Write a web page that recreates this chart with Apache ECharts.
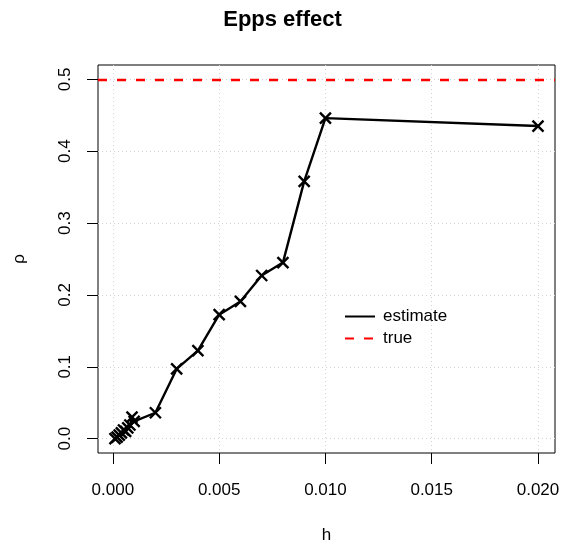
<!DOCTYPE html>
<html>
<head>
<meta charset="utf-8">
<script src="https://cdn.jsdelivr.net/npm/echarts@6/dist/echarts.min.js"></script>
<style>
  html, body { margin: 0; padding: 0; background: #fff; }
  #main { width: 565px; height: 543px; }
</style>
</head>
<body>
<div id="main"></div>
<script>
// lag h and the estimated correlation at each lag
var hValues = [0.0001, 0.0002, 0.0003, 0.0004, 0.0005, 0.0006, 0.0007, 0.0008, 0.0009, 0.001,
               0.002, 0.003, 0.004, 0.005, 0.006, 0.007, 0.008, 0.009, 0.010, 0.020];
var rhoValues = [0.000, 0.002, 0.005, 0.008, 0.012, 0.010, 0.015, 0.019, 0.030, 0.024,
                 0.036, 0.097, 0.1225, 0.1725, 0.191, 0.227, 0.245, 0.358, 0.446, 0.435];
var trueRho = 0.5;
var xTicks = [0, 0.005, 0.010, 0.015, 0.020];
var yTicks = [0, 0.1, 0.2, 0.3, 0.4, 0.5];

var points = [];
for (var i = 0; i < hValues.length; i++) {
    points.push([hValues[i], rhoValues[i]]);
}

var font = 'Liberation Sans, Arial, Helvetica, sans-serif';
var chart = echarts.init(document.getElementById('main'));

var option = {
    animation: false,
    backgroundColor: '#fff',
    title: {
        text: 'Epps effect',
        left: 'center',
        top: 4,
        textStyle: { fontFamily: font, fontSize: 22, fontWeight: 'bold', color: '#000' }
    },
    grid: {
        left: 98, right: 10, top: 65, bottom: 90,
        outerBoundsMode: 'none',
        show: true, borderColor: '#000', borderWidth: 1, backgroundColor: 'transparent'
    },
    legend: {
        orient: 'vertical',
        left: 339,
        top: 303,
        itemWidth: 30,
        itemHeight: 14,
        itemGap: 5,
        itemStyle: { opacity: 0 },
        textStyle: { fontFamily: font, fontSize: 17, color: '#000', padding: [0, 0, 0, 3] },
        data: ['estimate', 'true']
    },
    xAxis: {
        type: 'value',
        min: -0.0007,
        max: 0.0208,
        name: 'h',
        nameLocation: 'middle',
        nameGap: 74,
        nameTextStyle: { fontFamily: font, fontSize: 17, color: '#000' },
        axisLine: { show: false, onZero: false },
        axisTick: { show: true, length: 11, lineStyle: { color: '#000' }, customValues: xTicks },
        axisLabel: {
            fontFamily: font, fontSize: 17, color: '#000', margin: 29,
            customValues: xTicks,
            formatter: function (v) { return v.toFixed(3); }
        },
        splitLine: { show: true, lineStyle: { color: '#d3d3d3', type: [1, 3], width: 1 } }
    },
    yAxis: {
        type: 'value',
        min: -0.02,
        max: 0.52,
        name: 'ρ',
        nameLocation: 'middle',
        nameGap: 70,
        nameTextStyle: { fontFamily: font, fontSize: 17, color: '#000' },
        axisLine: { show: false, onZero: false },
        axisTick: { show: true, length: 11, lineStyle: { color: '#000' }, customValues: yTicks },
        axisLabel: {
            fontFamily: font, fontSize: 17, color: '#000', margin: 24, rotate: 90,
            customValues: yTicks,
            formatter: function (v) { return v.toFixed(1); }
        },
        splitLine: { show: true, lineStyle: { color: '#d3d3d3', type: [1, 3], width: 1 } }
    },
    series: [
        {
            name: 'estimate',
            type: 'line',
            data: points,
            symbol: 'path://M0,0L10,10M10,0L0,10',
            symbolSize: 11,
            itemStyle: { color: '#000', borderColor: '#000', borderWidth: 2.4 },
            lineStyle: { color: '#000', width: 2.4 },
            z: 3
        },
        {
            name: 'true',
            type: 'line',
            data: [],
            symbol: 'none',
            itemStyle: { color: '#ff0000' },
            lineStyle: { color: '#ff0000', width: 2.4, type: [9, 10] },
            markLine: {
                silent: true,
                symbol: 'none',
                label: { show: false },
                lineStyle: { color: '#ff0000', width: 2.4, type: [9, 10] },
                data: [{ yAxis: trueRho }]
            }
        }
    ]
};

chart.setOption(option);
</script>
</body>
</html>
